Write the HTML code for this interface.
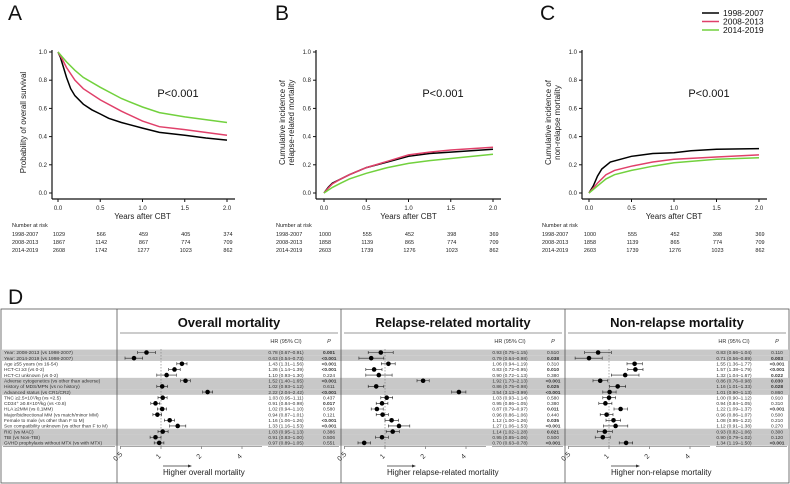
<!DOCTYPE html>
<html><head><meta charset="utf-8">
<style>
body{margin:0;background:#fff;}
svg{display:block;font-family:"Liberation Sans",sans-serif;}
</style></head>
<body>
<svg id="fig" width="790" height="484" viewBox="0 0 790 484">
<g font-size="21" fill="#111">
<text x="8" y="20">A</text>
<text x="275" y="20">B</text>
<text x="540" y="20">C</text>
<text x="8" y="304">D</text>
</g>
<g font-size="8.5" fill="#111">
<line x1="702" y1="13" x2="719" y2="13" stroke="#000" stroke-width="1.5"/>
<text x="723" y="16">1998-2007</text>
<line x1="702" y1="21.5" x2="719" y2="21.5" stroke="#e0406a" stroke-width="1.5"/>
<text x="723" y="24.5">2008-2013</text>
<line x1="702" y1="30" x2="719" y2="30" stroke="#72d13e" stroke-width="1.5"/>
<text x="723" y="33">2014-2019</text>
</g>
<g id="km"></g>
<g id="forest"></g>
</svg>
<script>
const NS="http://www.w3.org/2000/svg";
const COLORS=["#000000","#e0406a","#72d13e"];
const periods=["1998-2007","2008-2013","2014-2019"];
const xTicks=[0,0.5,1,1.5,2];
const yTicks=[0,0.2,0.4,0.6,0.8,1.0];
const osBlack=[[0,1],[0.03,0.96],[0.06,0.9],[0.1,0.82],[0.15,0.74],[0.2,0.69],[0.3,0.63],[0.4,0.59],[0.5,0.56],[0.6,0.53],[0.75,0.5],[1.0,0.46],[1.2,0.43],[1.5,0.41],[1.75,0.39],[2.0,0.375]];
const osRed=[[0,1],[0.05,0.95],[0.1,0.89],[0.2,0.8],[0.3,0.74],[0.5,0.66],[0.75,0.58],[1.0,0.51],[1.2,0.47],[1.5,0.45],[2.0,0.41]];
const osGreen=[[0,1],[0.1,0.93],[0.2,0.87],[0.3,0.82],[0.5,0.75],[0.75,0.67],[1.0,0.61],[1.2,0.57],[1.5,0.54],[2.0,0.5]];
const rrBlack=[[0,0],[0.05,0.04],[0.1,0.07],[0.2,0.1],[0.3,0.13],[0.5,0.18],[0.75,0.22],[1.0,0.26],[1.25,0.28],[1.5,0.29],[2.0,0.31]];
const rrRed=[[0,0],[0.05,0.035],[0.1,0.065],[0.2,0.1],[0.3,0.13],[0.5,0.18],[0.75,0.225],[1.0,0.27],[1.25,0.29],[1.5,0.305],[2.0,0.325]];
const rrGreen=[[0,0],[0.1,0.04],[0.2,0.07],[0.3,0.1],[0.5,0.14],[0.75,0.18],[1.0,0.21],[1.25,0.23],[1.5,0.245],[2.0,0.275]];
const nrBlack=[[0,0],[0.05,0.05],[0.1,0.12],[0.15,0.17],[0.25,0.22],[0.5,0.26],[0.75,0.28],[1.0,0.285],[1.2,0.3],[1.5,0.31],[2.0,0.315]];
const nrRed=[[0,0],[0.1,0.07],[0.2,0.13],[0.3,0.16],[0.5,0.19],[0.75,0.22],[1.0,0.24],[1.5,0.255],[2.0,0.27]];
const nrGreen=[[0,0],[0.1,0.05],[0.2,0.1],[0.3,0.13],[0.5,0.16],[0.75,0.19],[1.0,0.215],[1.5,0.24],[2.0,0.25]];
const riskA=[[1029,566,459,405,374],[1867,1142,867,774,709],[2608,1742,1277,1023,862]];
const riskB=[[1000,555,452,398,369],[1858,1139,865,774,709],[2603,1739,1276,1023,862]];
const riskC=[[1000,555,452,398,369],[1858,1139,865,774,709],[2603,1739,1276,1023,862]];

const factors=["Year: 2008-2013 (vs 1998-2007)","Year: 2014-2019 (vs 1998-2007)","Age \u226555 years (vs 16-54)","HCT-CI \u22653  (vs 0-2)","HCT-CI unknown (vs 0-2)","Adverse cytogenetics (vs other than adverse)","History of MDS/MPN (vs no history)","Advanced status (vs CR1/CR2)","TNC \u22652.5\u00d710\u2077/kg (vs <2.5)","CD34\u207a \u22650.8\u00d710\u2075/kg (vs <0.8)","HLA \u22652MM (vs 0,1MM)","Major/bidirectional MM (vs match/minor MM)","Female to male (vs other than F to M)","Sex compatibility unknown (vs other than F to M)","RIC (vs MAC)","TBI (vs Non-TBI)","GVHD prophylaxis without MTX (vs with MTX)"];
const shadedRows=[0,1,5,6,7,14,15,16];
const omHR=[0.78,0.63,1.43,1.26,1.10,1.52,1.02,2.22,1.03,0.91,1.02,0.94,1.16,1.33,1.03,0.91,0.97];
const omLo=[0.67,0.54,1.31,1.14,0.93,1.40,0.93,2.04,0.95,0.84,0.94,0.87,1.06,1.16,0.95,0.83,0.89];
const omHi=[0.91,0.73,1.56,1.39,1.30,1.65,1.12,2.42,1.11,0.98,1.10,1.01,1.26,1.53,1.13,1.00,1.05];
const omP=["0.001","<0.001","<0.001","<0.001","0.224","<0.001","0.611","<0.001","0.437","0.017","0.580","0.121","<0.001","<0.001","0.386","0.506","0.551"];
const rrHR=[0.93,0.79,1.06,0.83,0.90,1.92,0.86,3.54,1.03,0.95,0.87,0.96,1.12,1.27,1.14,0.95,0.70];
const rrLo=[0.75,0.64,0.94,0.72,0.72,1.73,0.75,3.13,0.93,0.86,0.79,0.86,1.00,1.06,1.02,0.85,0.63];
const rrHi=[1.15,0.98,1.19,0.95,1.13,2.13,0.98,3.99,1.14,1.05,0.97,1.06,1.26,1.53,1.28,1.06,0.78];
const rrP=["0.510","0.038","0.310","0.010","0.380","<0.001","0.025","<0.001","0.580","0.380","0.011","0.440","0.035","<0.001","0.021","0.500","<0.001"];
const nrHR=[0.83,0.71,1.55,1.57,1.32,0.86,1.16,1.01,1.00,0.94,1.22,0.96,1.08,1.12,0.93,0.90,1.34];
const nrLo=[0.66,0.56,1.36,1.38,1.04,0.76,1.01,0.90,0.90,0.84,1.09,0.86,0.95,0.91,0.82,0.79,1.19];
const nrHi=[1.04,0.89,1.77,1.79,1.67,0.98,1.33,1.13,1.12,1.05,1.37,1.07,1.22,1.38,1.06,1.02,1.50];
const nrP=["0.110","0.003","<0.001","<0.001","0.022","0.030","0.028","0.860","0.910","0.310","<0.001","0.500","0.210","0.270","0.300","0.120","<0.001"];
const forestTicks=[0.5,1,2,4];

function el(parent,tag,attrs,text){const e=document.createElementNS(NS,tag);for(const k in attrs)e.setAttribute(k,attrs[k]);if(text!==undefined)e.textContent=text;parent.appendChild(e);return e;}

const km=document.getElementById('km');
const panels=[
 {ax:52,x0:58,x2:227,series:[osBlack,osRed,osGreen],risk:riskA,ylab:["Probability of overall survival"],name:"overall-survival",px:178},
 {ax:316,x0:324,x2:493,series:[rrBlack,rrRed,rrGreen],risk:riskB,ylab:["Cumulative incidence of","relapse-related mortality"],name:"relapse-mortality",px:443},
 {ax:582,x0:589,x2:759,series:[nrBlack,nrRed,nrGreen],risk:riskC,ylab:["Cumulative incidence of","non-relapse mortality"],name:"nonrelapse-mortality",px:709}
];
const Y1=52,Y0=193,AXB=199;
panels.forEach(p=>{
 const g=el(km,'g',{});
 
 
 const sx=t=>p.x0+(p.x2-p.x0)*t/2;
 const sy=v=>Y0-(Y0-Y1)*v;
 const ya=el(g,'line',{x1:p.ax,y1:Y1-2,x2:p.ax,y2:AXB,stroke:'#111','stroke-width':1.2});
 
 const xa=el(g,'line',{x1:p.ax,y1:AXB,x2:p.x2+8,y2:AXB,stroke:'#111','stroke-width':1.2});
 
 yTicks.forEach(v=>{
  el(g,'line',{x1:p.ax-3,y1:sy(v),x2:p.ax,y2:sy(v),stroke:'#111','stroke-width':1});
  const t=el(g,'text',{x:p.ax-5,y:sy(v)+2,'font-size':6,'text-anchor':'end',fill:'#222'},v.toFixed(1));
  
 });
 xTicks.forEach(v=>{
  el(g,'line',{x1:sx(v),y1:AXB,x2:sx(v),y2:AXB+3,stroke:'#111','stroke-width':1});
  const t=el(g,'text',{x:sx(v),y:AXB+11,'font-size':6,'text-anchor':'middle',fill:'#222'},v.toFixed(1));
  
 });
 const xt=el(g,'text',{x:(p.x0+p.x2)/2,y:AXB+20,'font-size':8,'text-anchor':'middle',fill:'#222'},'Years after CBT');
 
 const cy=(Y0+Y1)/2;
 p.ylab.forEach((s,i)=>{
  const lx=p.ax-31+(p.ylab.length===1?5:i*9);
  const yt=el(g,'text',{x:lx,y:cy,'font-size':8,'text-anchor':'middle',fill:'#222',transform:`rotate(-90 ${lx} ${cy})`},s);
  
 });
 const pv=el(g,'text',{x:p.px,y:97,'font-size':11,'text-anchor':'middle',fill:'#111'},'P<0.001');
 
 p.series.forEach((s,i)=>{
  let d='';
  s.forEach((pt,j)=>{d+=(j?'L':'M')+sx(pt[0]).toFixed(1)+','+sy(pt[1]).toFixed(1);});
  const path=el(g,'path',{d:d,fill:'none',stroke:COLORS[i],'stroke-width':1.5});
  
  
 });
 const rt=el(g,'text',{x:p.ax-40,y:227,'font-size':5.5,fill:'#222'},'Number at risk');
 
 p.risk.forEach((row,i)=>{
  const ry=236+i*8;
  const lb=el(g,'text',{x:p.ax-40,y:ry,'font-size':5.5,fill:'#222'},periods[i]);
  
  row.forEach((n,j)=>{
   const c=el(g,'text',{x:sx(xTicks[j])+1,y:ry,'font-size':5.5,'text-anchor':'middle',fill:'#222'},String(n));
   
  });
 });
});

const F=document.getElementById('forest');
const box=el(F,'rect',{x:1,y:309,width:788,height:174,fill:'none',stroke:'#555','stroke-width':0.8});

const rowY=i=>352.5+i*5.65;
shadedRows.forEach(i=>{
 const r=el(F,'rect',{x:1,y:rowY(i)-2.9,width:788,height:5.7,fill:'#c8c8c8'});
 
});
[117,341,565].forEach(x=>{el(F,'line',{x1:x,y1:309,x2:x,y2:483,stroke:'#555','stroke-width':0.8});});
factors.forEach((f,i)=>{
 const t=el(F,'text',{x:4,y:rowY(i)+1.7,'font-size':4.8,fill:'#333'},f);
 
});
el(F,'line',{x1:3,y1:446.5,x2:115,y2:446.5,stroke:'#888','stroke-width':0.8});
const fpanels=[
 {x:117,title:"Overall mortality",hr:omHR,lo:omLo,hi:omHi,p:omP,foot:"Higher overall mortality",name:"overall-mortality"},
 {x:341,title:"Relapse-related mortality",hr:rrHR,lo:rrLo,hi:rrHi,p:rrP,foot:"Higher relapse-related mortality",name:"relapse-mortality"},
 {x:565,title:"Non-relapse mortality",hr:nrHR,lo:nrLo,hi:nrHi,p:nrP,foot:"Higher non-relapse mortality",name:"nonrelapse-mortality"}
];
const PX=40.5;
fpanels.forEach(fp=>{
 const g=el(F,'g',{});
 
 
 const ref=fp.x+44;
 const sx=v=>ref+PX*Math.log2(v);
 const tt=el(g,'text',{x:fp.x+112,y:327,'font-size':13,'font-weight':'bold','text-anchor':'middle',fill:'#111'},fp.title);
 
 el(g,'line',{x1:fp.x+3,y1:333,x2:fp.x+221,y2:333,stroke:'#999','stroke-width':1});
 const h1=el(g,'text',{x:fp.x+169,y:343,'font-size':5.5,'text-anchor':'middle',fill:'#333'},'HR (95% CI)');
 
 const h2=el(g,'text',{x:fp.x+212,y:343,'font-size':5.5,'font-style':'italic','text-anchor':'middle',fill:'#333'},'P');
 
 el(g,'line',{x1:ref,y1:349,x2:ref,y2:446.5,stroke:'#777','stroke-width':0.6,'stroke-dasharray':'1.5,1.5'});
 el(g,'line',{x1:fp.x+3,y1:446.5,x2:fp.x+145,y2:446.5,stroke:'#888','stroke-width':0.8});
 el(g,'line',{x1:fp.x+151,y1:446.5,x2:fp.x+222,y2:446.5,stroke:'#888','stroke-width':0.8});
 forestTicks.forEach(v=>{
  el(g,'line',{x1:sx(v),y1:446.5,x2:sx(v),y2:449,stroke:'#555','stroke-width':0.6});
  const lx=sx(v)-1, ly=458;
  const t=el(g,'text',{x:lx,y:ly,'font-size':7,'text-anchor':'middle',fill:'#333',transform:`rotate(-45 ${lx} ${ly})`},String(v));
  
 });
 el(g,'line',{x1:fp.x+46,y1:466,x2:fp.x+72,y2:466,stroke:'#333','stroke-width':0.7});
 el(g,'path',{d:`M${fp.x+75},466 l-4,-1.5 l0,3 z`,fill:'#333'});
 const ft=el(g,'text',{x:fp.x+46,y:475,'font-size':8,fill:'#222'},fp.foot);
 
 fp.hr.forEach((v,i)=>{
  const y=rowY(i);
  const ci=el(g,'path',{d:`M${sx(fp.lo[i]).toFixed(1)},${y}H${sx(fp.hi[i]).toFixed(1)}M${sx(fp.lo[i]).toFixed(1)},${y-1.5}v3M${sx(fp.hi[i]).toFixed(1)},${y-1.5}v3`,stroke:'#222','stroke-width':0.6,fill:'none'});
  
  const pt=el(g,'circle',{cx:sx(v).toFixed(1),cy:y,r:2.3,fill:'#000'});
  
  const txt=`${v.toFixed(2)} (${fp.lo[i].toFixed(2)}\u2013${fp.hi[i].toFixed(2)})`;
  const ht=el(g,'text',{x:fp.x+169,y:y+1.7,'font-size':4.8,'text-anchor':'middle',fill:'#333'},txt);
  
  const sig=parseFloat(fp.p[i].replace('<',''))<0.05;
  const pp=el(g,'text',{x:fp.x+212,y:y+1.7,'font-size':4.8,'text-anchor':'middle',fill:'#333','font-weight':sig?'bold':'normal'},fp.p[i]);
  
 });
});
</script>
</body></html>
